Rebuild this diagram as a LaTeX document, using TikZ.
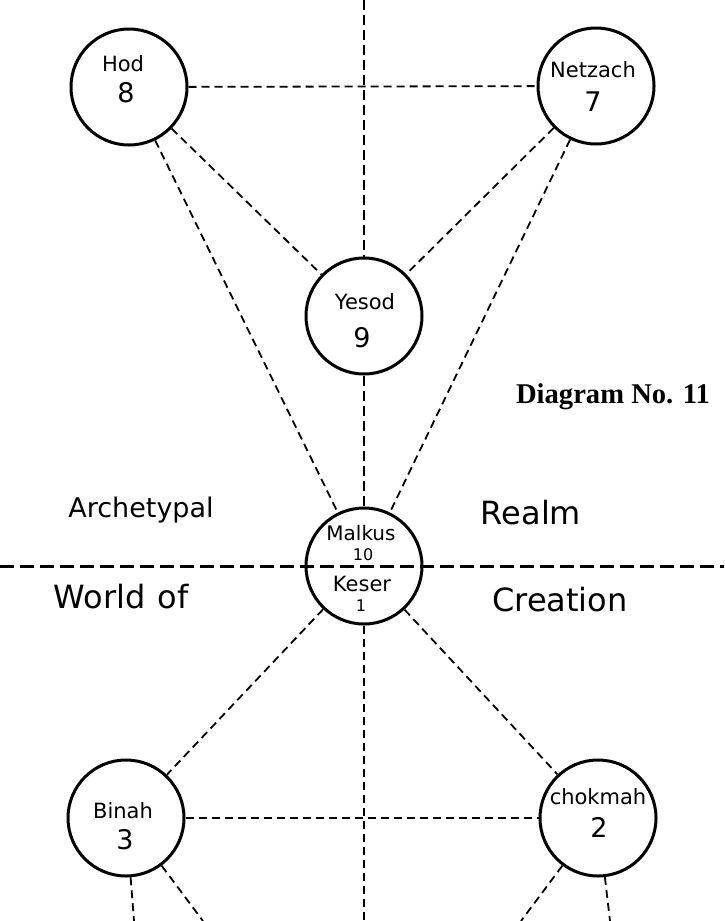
\documentclass[tikz,border=0pt]{standalone}
\usepackage{fontspec}
\setmainfont{DejaVu Sans}
\newfontfamily\titlefont{Liberation Serif}
\begin{document}
\begin{tikzpicture}[x=1pt, y=-1pt,
    sephira/.style={circle, draw, line width=3pt, minimum size=116pt, inner sep=0pt},
    trail/.style={dash pattern=on 8pt off 5pt, line width=1.8pt},
    spine/.style={dash pattern=on 10pt off 5pt, line width=2.2pt},
    divide/.style={dash pattern=on 14pt off 6pt, line width=3pt},
    sname/.style={font=\fontsize{21}{21}\selectfont, inner sep=0pt},
    snum/.style={font=\fontsize{27}{27}\selectfont, inner sep=0pt},
    smallnum/.style={font=\fontsize{16}{16}\selectfont, inner sep=0pt},
    world/.style={font=\fontsize{32}{32}\selectfont, inner sep=0pt}]
    \useasboundingbox (0,0) rectangle (724,921);
    \node[sephira] (hod) at (129,87) {};
    \node[sephira] (netzach) at (596,86) {};
    \node[sephira] (yesod) at (364,316) {};
    \node[sephira] (malkus) at (364,566) {};
    \node[sephira] (binah) at (126,818) {};
    \node[sephira] (chokmah) at (598,818) {};
    \node[sname] (hodname) at (123,64) {Hod};
    \node[snum] (hodnum) at (126,93) {8};
    \node[sname] (netzachname) at (593,70) {Netzach};
    \node[snum] (netzachnum) at (593,102) {7};
    \node[sname] (yesodname) at (365,302) {Yesod};
    \node[snum] (yesodnum) at (362,338) {9};
    \node[sname, font=\fontsize{20}{20}\selectfont] (malkusname) at (361,533) {Malkus};
    \node[smallnum] (malkusnum) at (363,555) {10};
    \node[sname] (kesername) at (362,584) {Keser};
    \node[smallnum] (kesernum) at (361,606) {1};
    \node[sname] (binahname) at (123,811) {Binah};
    \node[snum] (binahnum) at (125,840) {3};
    \node[sname] (chokmahname) at (598,797) {chokmah};
    \node[snum] (chokmahnum) at (599,827) {2};
    \node[world, font=\fontsize{27}{27}\selectfont] (archetypal) at (141,510) {Archetypal};
    \node[world] (realm) at (531,513) {Realm};
    \node[world] (worldof) at (121,597) {World\hspace{12pt}of};
    \node[world] (creation) at (560,600) {Creation};
    \node[font=\titlefont\bfseries\fontsize{28.6}{28.6}\selectfont, anchor=base, inner sep=0pt] (title) at (613,403) {Diagram No. 11};
    \coordinate (top) at (364,0);
    \coordinate (foot) at (364,921);
    \coordinate (west) at (0,566);
    \coordinate (east) at (724,566);
    \coordinate (binahdown) at (134,921);
    \coordinate (binahslope) at (203,921);
    \coordinate (chokmahslope) at (521,921);
    \coordinate (chokmahdown) at (610,921);
    \draw[divide] (west) -- (east);
    \draw[spine] (top) -- (yesod);
    \draw[spine] (yesod) -- (malkus);
    \draw[trail] (malkus) -- (foot);
    \draw[trail] (hod) -- (netzach);
    \draw[trail] (hod) -- (yesod);
    \draw[trail] (netzach) -- (yesod);
    \draw[trail] (hod) -- (malkus);
    \draw[trail] (netzach) -- (malkus);
    \draw[trail] (malkus) -- (binah);
    \draw[trail] (malkus) -- (chokmah);
    \draw[trail] (binah) -- (chokmah);
    \draw[trail] (binah) -- (binahdown);
    \draw[trail] (binah) -- (binahslope);
    \draw[trail] (chokmah) -- (chokmahslope);
    \draw[trail] (chokmah) -- (chokmahdown);
\end{tikzpicture}
\end{document}
